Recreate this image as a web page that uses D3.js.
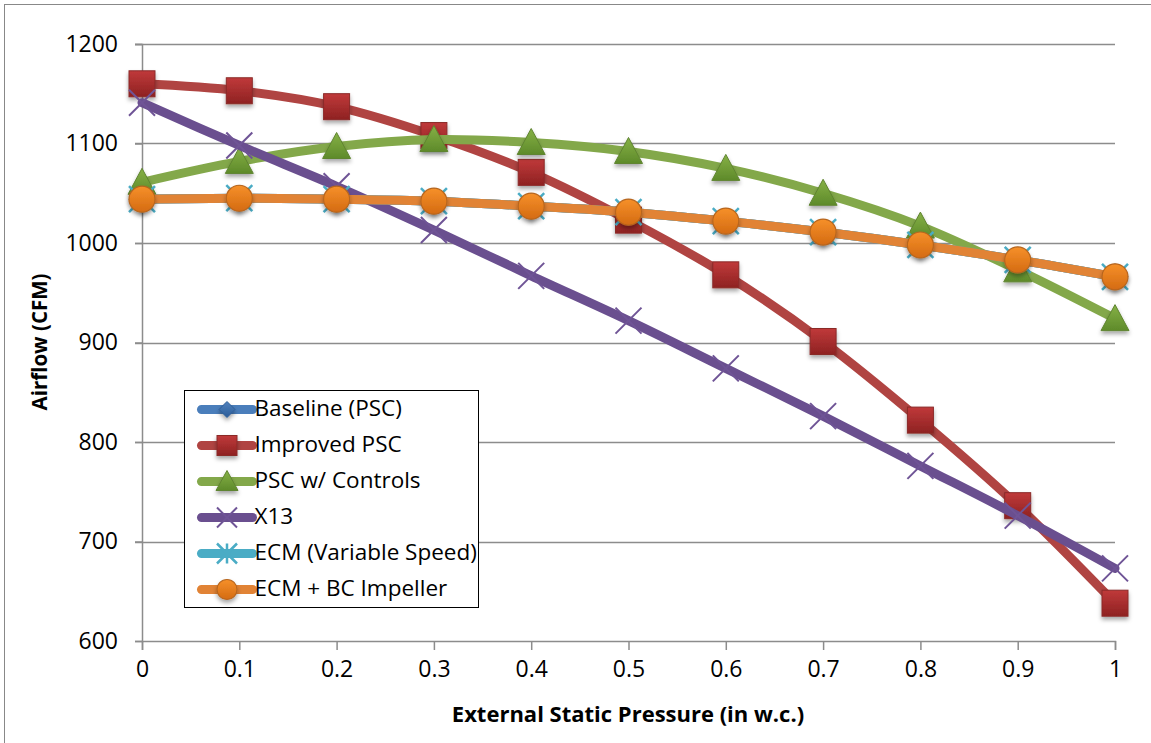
<!DOCTYPE html>
<html>
<head>
<meta charset="utf-8">
<script src="https://cdn.jsdelivr.net/npm/d3@7"></script>
<style>
  body { margin: 0; background: #fff; }
  text { font-family: "Open Sans", "Noto Sans", sans-serif; fill: #000; }
</style>
</head>
<body>
<div id="chart"></div>
<script>
// pressure steps (in w.c.)
const pressures = [0, 0.1, 0.2, 0.3, 0.4, 0.5, 0.6, 0.7, 0.8, 0.9, 1.0];

// airflow values (CFM)
const baseline   = [1044, 1045, 1044, 1042, 1037, 1031, 1022, 1011, 998, 983, 966];
const improved   = [1160, 1153, 1137, 1108, 1071, 1023, 968, 901, 822, 736, 638];
const controls   = [1061, 1082, 1097, 1104, 1101, 1092, 1075, 1050, 1017, 973, 924];
const x13        = [1141, 1098, 1057, 1013, 967, 922, 874, 826, 776, 726, 673];
const ecmVar     = [1044, 1045, 1044, 1042, 1037, 1031, 1022, 1011, 998, 983, 966];
const ecmBC      = [1044, 1045, 1044, 1042, 1037, 1031, 1022, 1011, 998, 983, 966];

const seriesNames = ["Baseline (PSC)", "Improved PSC", "PSC w/ Controls", "X13", "ECM (Variable Speed)", "ECM + BC Impeller"];
const yTicks = [600, 700, 800, 900, 1000, 1100, 1200];
const xTicks = [0, 0.1, 0.2, 0.3, 0.4, 0.5, 0.6, 0.7, 0.8, 0.9, 1];

const series = [
  {name: seriesNames[0], values: baseline, line: "#4A7EBB", marker: "diamond", fill: ["#4F81BD", "#2C5D98"]},
  {name: seriesNames[1], values: improved, line: "#B04442", marker: "square",  fill: ["#C0393A", "#8E2222"]},
  {name: seriesNames[2], values: controls, line: "#83A84A", marker: "triangle", fill: ["#86B146", "#5E8A2A"]},
  {name: seriesNames[3], values: x13,      line: "#6A4F8F", marker: "x",        fill: null},
  {name: seriesNames[4], values: ecmVar,   line: "#4AACC5", marker: "star",     fill: null},
  {name: seriesNames[5], values: ecmBC,    line: "#E18335", marker: "circle",   fill: ["#F6902A", "#D46B12"]}
];

const W = 1151, H = 743;
const margin = {top: 44, right: 36, bottom: 102, left: 142};
const width = W - margin.left - margin.right;
const height = H - margin.top - margin.bottom;

const svgRoot = d3.select("#chart").append("svg")
  .attr("width", W).attr("height", H);

const defs = svgRoot.append("defs");
series.forEach((s, i) => {
  if (!s.fill) return;
  const g = defs.append("linearGradient").attr("id", "grad" + i)
    .attr("x1", 0).attr("y1", 0).attr("x2", 0).attr("y2", 1);
  g.append("stop").attr("offset", "0%").attr("stop-color", s.fill[0]);
  g.append("stop").attr("offset", "100%").attr("stop-color", s.fill[1]);
});
const shadow = defs.append("filter").attr("id", "shadow")
  .attr("x", "-50%").attr("y", "-50%").attr("width", "200%").attr("height", "200%");
shadow.append("feDropShadow").attr("dx", 0).attr("dy", 3).attr("stdDeviation", 2)
  .attr("flood-color", "#000").attr("flood-opacity", 0.35);
defs.append("clipPath").attr("id", "legclip")
  .append("rect").attr("width", 293).attr("height", 217);

// outer frame
svgRoot.append("rect")
  .attr("x", 4.5).attr("y", 4.5).attr("width", W + 10).attr("height", H + 10)
  .attr("fill", "none").attr("stroke", "#888").attr("stroke-width", 1);

const svg = svgRoot.append("g")
  .attr("transform", `translate(${margin.left},${margin.top})`);

const x = d3.scaleLinear().domain([0, 1]).range([0, width]);
const y = d3.scaleLinear().domain([600, 1200]).range([height, 0]);

// gridlines
svg.append("g")
  .selectAll("line")
  .data(yTicks.slice(1))
  .join("line")
    .attr("x1", -7).attr("x2", width)
    .attr("y1", d => Math.round(y(d)) + 0.5).attr("y2", d => Math.round(y(d)) + 0.5)
    .attr("stroke", "#8c8c8c").attr("stroke-width", 1.5);

// y axis
const yAxis = svg.append("g")
  .call(d3.axisLeft(y).tickValues(yTicks).tickSize(7).tickPadding(17).tickFormat(d3.format("d")));
yAxis.select(".domain").attr("stroke", "#8c8c8c").attr("stroke-width", 1.5);
yAxis.selectAll(".tick line").attr("stroke", "#8c8c8c").attr("stroke-width", 1.5);
yAxis.selectAll("text").style("font-size", "23px").style("font-family", "'Open Sans', sans-serif");

// x axis
const xAxis = svg.append("g")
  .attr("transform", `translate(0,${height})`)
  .call(d3.axisBottom(x).tickValues(xTicks).tickSize(9).tickPadding(11).tickFormat(d => d3.format("")(+d.toFixed(1))));
xAxis.select(".domain").attr("stroke", "#8c8c8c").attr("stroke-width", 1.5);
xAxis.selectAll(".tick line").attr("stroke", "#8c8c8c").attr("stroke-width", 1.5);
xAxis.selectAll("text").style("font-size", "23px").style("font-family", "'Open Sans', sans-serif");

// axis titles
svg.append("text")
  .attr("transform", `translate(${42 - margin.left},${342 - margin.top}) rotate(-90)`)
  .attr("text-anchor", "middle").attr("dominant-baseline", "middle")
  .style("font-size", "20.5px").style("font-weight", "bold")
  .text("Airflow (CFM)");
svg.append("text")
  .attr("x", 628 - margin.left).attr("y", 716 - margin.top)
  .attr("text-anchor", "middle").attr("dominant-baseline", "middle")
  .style("font-size", "22px").style("font-weight", "bold")
  .text("External Static Pressure (in w.c.)");

const line = d3.line()
  .x((d, i) => x(pressures[i]))
  .y(d => y(d))
  .curve(d3.curveCardinal.tension(0));

function drawMarker(sel, s, i, size) {
  const r = size / 2;
  if (s.marker === "square") {
    sel.append("rect").attr("x", -r).attr("y", -r).attr("width", size).attr("height", size)
      .attr("fill", `url(#grad${i})`).attr("stroke", "#8a2a28").attr("stroke-width", 1);
  } else if (s.marker === "triangle") {
    sel.append("path").attr("d", `M0,${-r - 1}L${r + 1},${r - 1}L${-r - 1},${r - 1}Z`)
      .attr("fill", `url(#grad${i})`).attr("stroke", "#5f8430").attr("stroke-width", 1);
  } else if (s.marker === "circle") {
    sel.append("circle").attr("r", r)
      .attr("fill", `url(#grad${i})`).attr("stroke", "#b8661e").attr("stroke-width", 1.2);
  } else if (s.marker === "diamond") {
    sel.append("path").attr("d", `M0,${-r}L${r},0L0,${r}L${-r},0Z`)
      .attr("fill", `url(#grad${i})`).attr("stroke", "#2c5d98").attr("stroke-width", 1);
  } else if (s.marker === "x") {
    sel.append("path").attr("d", `M${-r},${-r}L${r},${r}M${r},${-r}L${-r},${r}`)
      .attr("stroke", "#6f5496").attr("stroke-width", 2).attr("fill", "none");
  } else if (s.marker === "star") {
    sel.append("path").attr("d", `M${-r},${-r}L${r},${r}M${r},${-r}L${-r},${r}M0,${-r}L0,${r}`)
      .attr("stroke", "#4AACC5").attr("stroke-width", 2.5).attr("fill", "none");
  }
}

// series: lines then markers
series.forEach((s, i) => {
  const g = svg.append("g");
  g.append("path")
    .datum(s.values)
    .attr("d", line)
    .attr("fill", "none")
    .attr("stroke", s.line)
    .attr("stroke-width", 9)
    .attr("stroke-linejoin", "round")
    .attr("stroke-linecap", "round");
  g.selectAll("g.pt")
    .data(s.values)
    .join("g")
    .attr("class", "pt")
    .attr("transform", (d, j) => `translate(${x(pressures[j])},${y(d)})`)
    .attr("filter", s.fill ? "url(#shadow)" : null)
    .each(function() { drawMarker(d3.select(this), s, i, 26); });
});

// legend
const lg = svgRoot.append("g").attr("transform", "translate(184.5,390.5)");
lg.append("rect").attr("width", 294).attr("height", 217)
  .attr("fill", "#fff");
const lgItems = lg.append("g").attr("clip-path", "url(#legclip)");
series.forEach((s, i) => {
  const row = lgItems.append("g").attr("transform", `translate(0,${19 + i * 36})`);
  row.append("line").attr("x1", 17).attr("x2", 68).attr("y1", 0).attr("y2", 0)
    .attr("stroke", s.line).attr("stroke-width", 9).attr("stroke-linecap", "round");
  const m = row.append("g").attr("transform", "translate(42.5,0)")
    .attr("filter", s.fill ? "url(#shadow)" : null);
  drawMarker(m, s, i, s.marker === "diamond" ? 16 : 20);
  row.append("text").attr("x", 70).attr("y", 0)
    .attr("dominant-baseline", "middle")
    .style("font-size", "22.5px")
    .text(s.name);
});
lg.append("rect").attr("width", 294).attr("height", 217)
  .attr("fill", "none").attr("stroke", "#000").attr("stroke-width", 1);
</script>
</body>
</html>
